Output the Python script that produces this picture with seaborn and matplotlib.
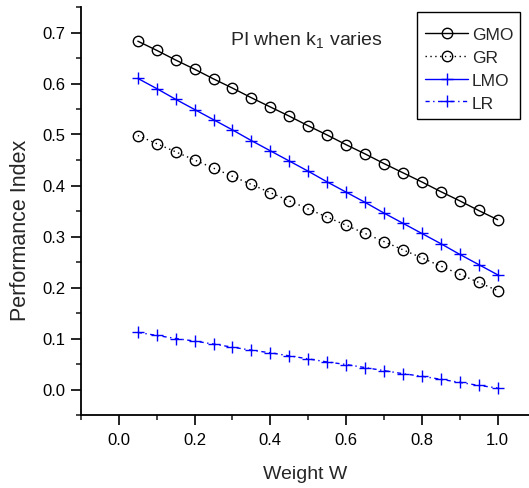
import matplotlib
matplotlib.use("Agg")
import matplotlib.pyplot as plt
import seaborn as sns
import pandas as pd
from matplotlib.patches import Rectangle
from matplotlib.ticker import MultipleLocator

weights = [0.05, 0.10, 0.15, 0.20, 0.25, 0.30, 0.35, 0.40, 0.45, 0.50,
           0.55, 0.60, 0.65, 0.70, 0.75, 0.80, 0.85, 0.90, 0.95, 1.00]
gmo = [0.683, 0.665, 0.646, 0.628, 0.609, 0.591, 0.572, 0.554, 0.536, 0.517,
       0.499, 0.480, 0.462, 0.443, 0.425, 0.407, 0.388, 0.370, 0.351, 0.333]
gr = [0.498, 0.482, 0.466, 0.450, 0.434, 0.418, 0.402, 0.386, 0.370, 0.354,
      0.338, 0.322, 0.306, 0.290, 0.274, 0.258, 0.242, 0.226, 0.210, 0.194]
lmo = [0.610, 0.590, 0.569, 0.549, 0.529, 0.509, 0.488, 0.468, 0.448, 0.428,
       0.407, 0.387, 0.367, 0.346, 0.326, 0.306, 0.286, 0.265, 0.245, 0.225]
lr = [0.112, 0.106, 0.100, 0.095, 0.089, 0.083, 0.077, 0.072, 0.066, 0.060,
      0.054, 0.049, 0.043, 0.037, 0.031, 0.026, 0.020, 0.014, 0.008, 0.003]

series_names = ["GMO", "GR", "LMO", "LR"]
series_values = [gmo, gr, lmo, lr]

sns.set_style("ticks")
plt.rcParams["font.family"] = ["Liberation Sans", "DejaVu Sans"]
plt.rcParams["mathtext.fontset"] = "custom"
plt.rcParams["mathtext.rm"] = "Liberation Sans"
plt.rcParams["mathtext.it"] = "Liberation Sans"

fig = plt.figure(figsize=(5.29, 4.89), dpi=100)
ax = fig.add_axes([81 / 529, 1 - 416 / 489, 448 / 529, 408 / 489])

styles = {
    "GMO": dict(color="black", linestyle="-", marker="o", mfc="none", ms=7.5),
    "GR": dict(color="black", linestyle=(0, (1, 2.5)), marker="o", mfc="none", ms=7.5),
    "LMO": dict(color="#0000ff", linestyle="-", marker="+", ms=9),
    "LR": dict(color="#0000ff", linestyle=(0, (3, 2.5, 1, 2.5)), marker="+", ms=9),
}

for name, vals in zip(series_names, series_values):
    df = pd.DataFrame({"W": weights, "PI": vals})
    st = styles[name]
    sns.lineplot(data=df, x="W", y="PI", ax=ax, label=name,
                 color=st["color"], linestyle=st["linestyle"], linewidth=1.0,
                 marker=st["marker"], markersize=st["ms"],
                 markerfacecolor=st.get("mfc", st["color"]),
                 markeredgecolor=st["color"], markeredgewidth=1.0)

ax.set_xlim(-0.1, 1.083)
ax.set_ylim(-0.05, 0.75)
ax.xaxis.set_major_locator(MultipleLocator(0.2))
ax.xaxis.set_minor_locator(MultipleLocator(0.1))
ax.yaxis.set_major_locator(MultipleLocator(0.1))
ax.yaxis.set_minor_locator(MultipleLocator(0.05))
ax.xaxis.set_major_formatter(plt.FormatStrFormatter("%.1f"))
ax.yaxis.set_major_formatter(plt.FormatStrFormatter("%.1f"))

for s in ["top", "right"]:
    ax.spines[s].set_visible(False)
for s in ["left", "bottom"]:
    ax.spines[s].set_linewidth(1.3)
    ax.spines[s].set_color("black")

ax.tick_params(which="major", direction="out", length=7, width=1.2,
               labelsize=12, colors="black", pad=4)
ax.tick_params(axis="x", which="major", pad=5)
ax.tick_params(which="minor", direction="out", length=3.6, width=1.2)

ax.set_xlabel("Weight W", fontsize=14)
ax.set_ylabel("Performance Index", fontsize=15.5)
ax.xaxis.set_label_coords(0.5, -0.122)
ax.yaxis.set_label_coords(-0.136, 0.456)
ax.yaxis.label.set_va("center")

ax.text(0.496, 0.688, r"PI when k$_1$ varies", fontsize=14, ha="center", va="center")

# legend entries without their own frame; a plain box is drawn around them
leg = ax.legend(loc="upper left", bbox_to_anchor=(0.768, 0.951),
                borderaxespad=0, borderpad=0, frameon=False,
                fontsize=12.5, handlelength=2.47, handletextpad=0.23,
                labelspacing=0.44)
ax.add_patch(Rectangle((0.75, 0.7255), 0.23, 0.2625, transform=ax.transAxes,
                       fill=False, edgecolor="black", linewidth=1.0,
                       clip_on=False, zorder=5))

fig.savefig("out.png", dpi=100)
